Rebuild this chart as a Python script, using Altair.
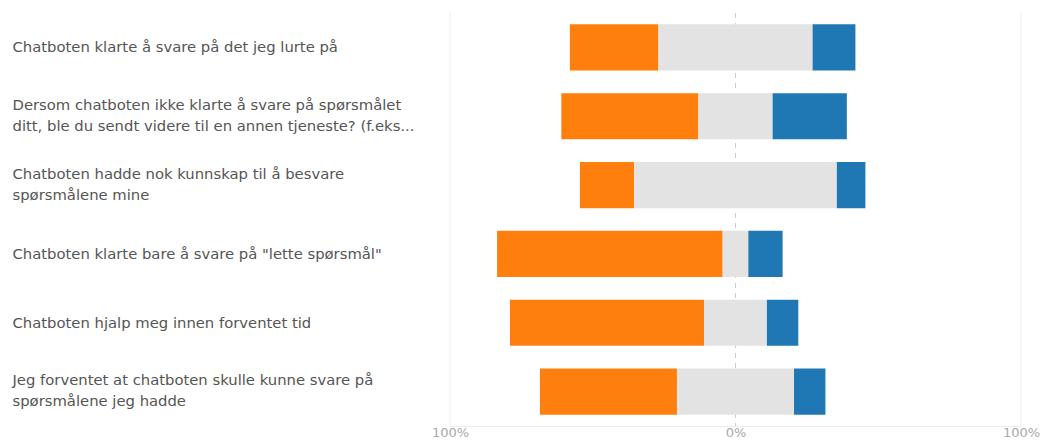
import altair as alt
import pandas as pd

# Question labels (lines separated by "|")
questions = [
    "Chatboten klarte å svare på det jeg lurte på",
    "Dersom chatboten ikke klarte å svare på spørsmålet|ditt, ble du sendt videre til en annen tjeneste? (f.eks...",
    "Chatboten hadde nok kunnskap til å besvare|spørsmålene mine",
    "Chatboten klarte bare å svare på \"lette spørsmål\"",
    "Chatboten hjalp meg innen forventet tid",
    "Jeg forventet at chatboten skulle kunne svare på|spørsmålene jeg hadde",
]
# Percent shares per question
negative = [31, 48, 19, 79, 68, 48]
neutral = [54, 26, 71, 9, 22, 41]
positive = [15, 26, 10, 12, 11, 11]

categories = ["Negativ", "Nøytral", "Positiv"]
colors = ["#ff7f0e", "#e3e3e3", "#1f77b4"]

rows = []
for q, n, m, p in zip(questions, negative, neutral, positive):
    half = m / 2
    rows.append({"q": q, "cat": "Negativ", "start": -half - n, "end": -half})
    rows.append({"q": q, "cat": "Nøytral", "start": -half, "end": half})
    rows.append({"q": q, "cat": "Positiv", "start": half, "end": half + p})
df = pd.DataFrame(rows)

x_scale = alt.Scale(domain=[-100, 100], nice=False, zero=False)
y_scale = alt.Scale(domain=questions, paddingInner=0.33, paddingOuter=0.165)

bars = alt.Chart(df).mark_bar().encode(
    x=alt.X("start:Q", scale=x_scale,
            axis=alt.Axis(values=[-100, 0, 100], labelExpr="abs(datum.value) + '%'",
                          title=None, grid=False, ticks=False, domain=True,
                          domainColor="#ececec", labelColor="#a8a8a8", labelFontSize=13,
                          labelFont="DejaVu Sans", labelPadding=0, labelFlush=False)),
    x2="end:Q",
    y=alt.Y("q:N", scale=y_scale, sort=questions,
            axis=alt.Axis(title=None, ticks=False, domain=False, grid=False,
                          labelAlign="left", labelPadding=438, labelLimit=430,
                          labelExpr="split(datum.label, '|')", labelLineHeight=21,
                          labelFontSize=14.8, labelFont="DejaVu Sans", labelColor="#555555",
                          labelBaseline="middle",
                          labelOffset={"condition": {"test": "indexof(datum.value, '|') >= 0",
                                                     "value": -10.5},
                                       "value": 1})),
    color=alt.Color("cat:N", scale=alt.Scale(domain=categories, range=colors), legend=None),
)

grid_vals = pd.DataFrame({"v": [-100, 100]})
grid = alt.Chart(grid_vals).mark_rule(color="#efefef", strokeWidth=1).encode(
    x=alt.X("v:Q", scale=x_scale)
)
zero = alt.Chart(pd.DataFrame({"v": [0]})).mark_rule(
    color="#cccccc", strokeWidth=1, strokeDash=[5, 5]
).encode(x=alt.X("v:Q", scale=x_scale))

chart = alt.layer(grid, zero, bars).properties(
    width=571, height=413,
    autosize=alt.AutoSizeParams(type="none"),
    padding={"left": 450, "top": 13, "right": 20, "bottom": 15},
).configure(background="white").configure_view(stroke=None, strokeWidth=0)

chart.save("out.html", embed_options={"renderer": "svg", "actions": False})
